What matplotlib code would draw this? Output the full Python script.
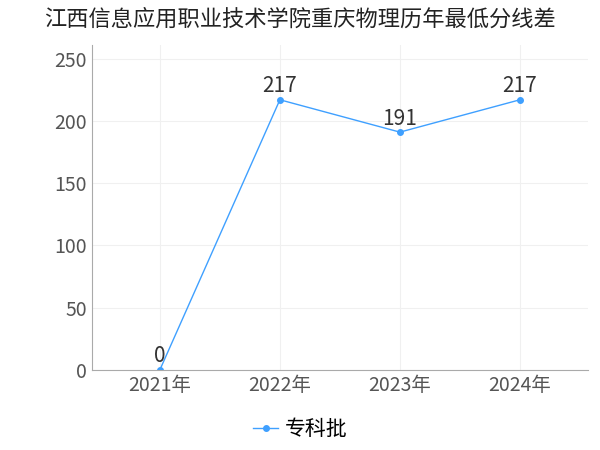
import matplotlib
matplotlib.use("Agg")
import matplotlib.pyplot as plt

plt.rcParams['font.family'] = 'Noto Sans CJK SC'

title = "江西信息应用职业技术学院重庆物理历年最低分线差"
years = ["2021年", "2022年", "2023年", "2024年"]
values = [0, 217, 191, 217]
series_name = "专科批"
color = "#3fa0ff"

fig = plt.figure(figsize=(6, 4.5), dpi=100)
ax = fig.add_axes([0.153, 0.178, 0.827, 0.722])
x = range(len(years))
ax.plot(x, values, color=color, lw=1, marker='o', ms=4, label=series_name)
for xi, v in zip(x, values):
    ax.text(xi, v + 2, str(v), ha='center', va='bottom', fontsize=15, color='#333333')
ax.set_xlim(-0.567, 3.567)
ax.set_ylim(0, 261)
ax.set_yticks([0, 50, 100, 150, 200, 250])
ax.set_xticks(list(x))
ax.set_xticklabels(years)
ax.tick_params(labelsize=14, colors='#555555', length=0)
ax.grid(axis='both', color='#f0f0f0', lw=0.8)
for s in ['top', 'right']:
    ax.spines[s].set_visible(False)
for s in ['left', 'bottom']:
    ax.spines[s].set_color('#aaaaaa')
fig.text(0.5, 0.958, title, ha='center', va='center', fontsize=16, color='#222222')
fig.legend(loc='lower center', bbox_to_anchor=(0.5, -0.02), frameon=False, fontsize=15,
           handlelength=1.2, handletextpad=0.3)
fig.savefig("out.png")
